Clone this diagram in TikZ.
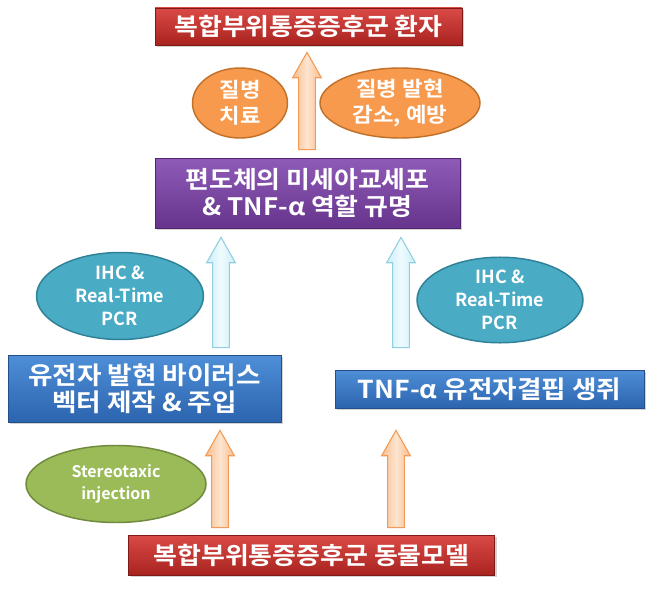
\documentclass[tikz,border=0pt]{standalone}
\usepackage{fontspec}
\setmainfont{Noto Sans CJK KR}[BoldFont={Noto Sans CJK KR Bold}]
\newfontfamily\krw{Noto Sans CJK KR}[UprightFont={Noto Sans CJK KR Bold}, FakeStretch=1.08]
\usetikzlibrary{shapes.geometric,shadows,calc}
\definecolor{redT}{HTML}{DA4A46}
\definecolor{redB}{HTML}{A8231F}
\definecolor{redD}{HTML}{7E1A17}
\definecolor{purT}{HTML}{8F5BB8}
\definecolor{purB}{HTML}{66348C}
\definecolor{purD}{HTML}{4E2670}
\definecolor{bluT}{HTML}{4E8FD8}
\definecolor{bluB}{HTML}{2C64AE}
\definecolor{bluD}{HTML}{24508A}
\definecolor{orF}{HTML}{F79A4E}
\definecolor{orD}{HTML}{C2712A}
\definecolor{teF}{HTML}{4AABC4}
\definecolor{teD}{HTML}{2F8198}
\definecolor{grF}{HTML}{9BBB59}
\definecolor{grD}{HTML}{6F8A3C}
\definecolor{oaL}{HTML}{FDE5D1}
\definecolor{oaE}{HTML}{F9BD8C}
\definecolor{oaD}{HTML}{F39A55}
\definecolor{caL}{HTML}{F0FBFE}
\definecolor{caE}{HTML}{CBEDF6}
\definecolor{caD}{HTML}{8FCFDF}
\tikzset{
  box/.style={rectangle, draw=#1D, line width=0.6pt, top color=#1T, bottom color=#1B,
    text=white, align=center, inner sep=0pt,
    drop shadow={opacity=0.35, shadow xshift=1.5pt, shadow yshift=-1.5pt}},
  oval/.style={ellipse, draw=#1D, line width=1.1pt, fill=#1F, text=white,
    align=center, inner sep=0pt},
  orarrow/.style={draw=oaD, line width=0.8pt, left color=oaE, right color=oaE, middle color=oaL},
  cyarrow/.style={draw=caD, line width=0.8pt, left color=caE, right color=caE, middle color=caL}
}
\newcommand\blockarr[3]{%
  \path[#1] let \p1=(#2), \p2=(#3) in
    (\x1-6.3pt,\y1) -- (\x1-6.3pt,\y2-19pt) -- (\x1-10.8pt,\y2-19pt) -- (\x2,\y2)
    -- (\x1+10.8pt,\y2-19pt) -- (\x1+6.3pt,\y2-19pt) -- (\x1+6.3pt,\y1) -- cycle;}
\begin{document}
\begin{tikzpicture}[x=0.75pt,y=-0.75pt]
\useasboundingbox (0,0) rectangle (650,592);
% boxes
\node[box=red, minimum width=307*0.75pt, minimum height=37*0.75pt,
  font=\krw\fontsize{18}{20}\selectfont] (top) at (308.5,26.5) {복합부위통증증후군 환자};
\node[box=pur, minimum width=305*0.75pt, minimum height=70*0.75pt,
  font=\krw\fontsize{18}{20.5}\selectfont] (mid) at (307.5,193) {편도체의 미세아교세포\\\& TNF-α 역할 규명};
\node[box=blu, minimum width=273*0.75pt, minimum height=67*0.75pt,
  font=\krw\fontsize{18.5}{20.5}\selectfont] (lbox) at (144.5,388.5) {유전자 발현 바이러스\\벡터 제작 \& 주입};
\node[box=blu, minimum width=309*0.75pt, minimum height=38*0.75pt,
  font=\krw\fontsize{18.5}{20}\selectfont] (rbox) at (489.5,389) {TNF-α 유전자결핍 생쥐};
\node[box=red, minimum width=366*0.75pt, minimum height=40*0.75pt,
  font=\krw\fontsize{18}{20}\selectfont] (bot) at (311.5,555) {복합부위통증증후군 동물모델};
% ellipses
\node[oval=or, minimum width=95*0.75pt, minimum height=70*0.75pt,
  font=\krw\fontsize{15.5}{19.5}\selectfont] (e1) at (240,103) {질병\\치료};
\node[oval=or, minimum width=160*0.75pt, minimum height=70*0.75pt,
  font=\krw\fontsize{15.5}{19.5}\selectfont] (e2) at (400,103) {질병 발현\\감소, 예방};
\node[oval=te, minimum width=167*0.75pt, minimum height=87*0.75pt,
  font=\bfseries\fontsize{13.5}{17.5}\selectfont] (e3) at (120,296) {IHC \&\\Real-Time\\PCR};
\node[oval=te, minimum width=166*0.75pt, minimum height=84*0.75pt,
  font=\bfseries\fontsize{13.5}{17.5}\selectfont] (e4) at (500,300) {IHC \&\\Real-Time\\PCR};
\node[oval=gr, minimum width=180*0.75pt, minimum height=77*0.75pt,
  font=\bfseries\fontsize{12}{16.5}\selectfont] (e5) at (116,484) {Stereotaxic\\injection};
% arrow end points
\coordinate (a1s) at ($(mid.north -| 307,0)+(0,-8)$);
\coordinate (a1e) at ($(top.south -| 307,0)+(0,7)$);
\coordinate (a2s) at ($(lbox.north -| 221,0)+(0,-7)$);
\coordinate (a2e) at ($(mid.south -| 221,0)+(0,9)$);
\coordinate (a3s) at ($(rbox.north -| 401,0)+(0,-22)$);
\coordinate (a3e) at ($(mid.south -| 401,0)+(0,9)$);
\coordinate (a4s) at ($(bot.north -| 220,0)+(0,-7)$);
\coordinate (a4e) at ($(lbox.south -| 220,0)+(0,8)$);
\coordinate (a5s) at ($(bot.north -| 396,0)+(0,-7)$);
\coordinate (a5e) at ($(rbox.south -| 396,0)+(0,22)$);
\blockarr{orarrow}{a1s}{a1e}
\blockarr{cyarrow}{a2s}{a2e}
\blockarr{cyarrow}{a3s}{a3e}
\blockarr{orarrow}{a4s}{a4e}
\blockarr{orarrow}{a5s}{a5e}
\end{tikzpicture}
\end{document}
